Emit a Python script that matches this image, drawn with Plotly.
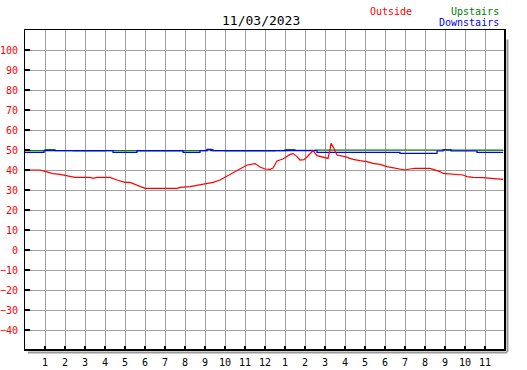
import plotly.graph_objects as go

# ---- data ----
title_text = "11/03/2023"
tick_hours = list(range(1, 24))
tick_labels = ["1", "2", "3", "4", "5", "6", "7", "8", "9", "10", "11", "12",
               "1", "2", "3", "4", "5", "6", "7", "8", "9", "10", "11"]
y_ticks = [-40, -30, -20, -10, 0, 10, 20, 30, 40, 50, 60, 70, 80, 90, 100]

outside_hours = [0.0, 0.75, 1.0, 1.4, 1.75, 2.1, 2.5, 3.25, 3.4, 3.6, 4.25, 4.6, 5.0, 5.25,
                 5.5, 5.75, 6.0, 7.6, 7.75, 8.25, 8.75, 9.4, 9.75, 10.1, 10.6, 11.1, 11.5,
                 11.75, 12.0, 12.25, 12.4, 12.6, 12.9, 13.25, 13.4, 13.6, 13.75, 13.95, 14.1,
                 14.25, 14.4, 14.6, 14.9, 15.15, 15.25, 15.3, 15.4, 15.6, 16.0, 16.4, 16.75,
                 17.1, 17.4, 17.75, 18.1, 18.4, 18.75, 19.0, 19.25, 19.5, 20.25, 20.4, 20.75,
                 20.9, 21.4, 21.9, 22.1, 22.4, 22.9, 23.25, 23.9]
outside_temp = [40.0, 40.0, 39.3, 38.2, 37.8, 37.0, 36.3, 36.3, 35.8, 36.3, 36.3, 35.0, 33.8, 33.8,
                32.8, 31.7, 30.8, 30.8, 31.3, 31.7, 32.5, 33.8, 35.0, 37.0, 40.0, 42.5, 43.2,
                41.5, 40.5, 40.3, 41.0, 44.5, 45.5, 47.8, 48.2, 46.7, 45.0, 45.2, 46.5,
                48.0, 49.7, 47.2, 46.5, 45.8, 50.0, 53.3, 51.7, 47.5, 46.7, 45.3, 44.7,
                44.2, 43.3, 42.8, 41.7, 41.2, 40.3, 40.0, 40.5, 40.8, 40.8, 40.3, 39.2,
                38.3, 37.8, 37.5, 36.7, 36.3, 36.2, 35.8, 35.3]

upstairs_hours = [0.0, 1.0, 1.5, 2.4, 4.0, 5.6, 7.9, 9.1, 9.4, 10.0, 12.5, 13.0, 13.5, 14.5, 20.9, 21.3, 23.9]
upstairs_temp = [49.7, 50.2, 49.7, 49.5, 49.7, 49.5, 49.7, 50.2, 49.7, 49.5, 49.7, 50.2, 49.8, 50.0, 50.2, 49.9, 49.9]

downstairs_hours = [0.0, 0.95, 4.4, 5.6, 7.9, 8.75, 9.1, 9.3, 14.6, 18.75, 20.6, 20.9, 21.3, 22.6, 23.9]
downstairs_temp = [48.8, 49.7, 48.8, 49.7, 48.8, 49.7, 50.3, 49.7, 48.8, 48.3, 49.5, 50.0, 49.5, 48.8, 48.8]

FONT = "DejaVu Sans Mono"
L, R, T, B = 25, 505, 30, 350
W, H = 527, 370

def px(x):
    return (x - L) / (R - L)

def py(y):
    return (B - y) / (B - T)

fig = go.Figure()
fig.add_trace(go.Scatter(x=upstairs_hours, y=upstairs_temp, mode="lines", line_shape="hv",
                         line=dict(color="#008000", width=1.2), name="Upstairs"))
fig.add_trace(go.Scatter(x=downstairs_hours, y=downstairs_temp, mode="lines", line_shape="hv",
                         line=dict(color="#0000ff", width=1.2), name="Downstairs"))
fig.add_trace(go.Scatter(x=outside_hours, y=outside_temp, mode="lines",
                         line=dict(color="#ff0000", width=1.2), name="Outside"))

fig.update_layout(
    width=W, height=H,
    margin=dict(l=L, r=W - R, t=T, b=H - B, pad=0, autoexpand=False),
    paper_bgcolor="white", plot_bgcolor="white",
    showlegend=False,
    font=dict(family=FONT, size=10, color="black"),
)
fig.update_xaxes(range=[0, 24], tickvals=tick_hours, ticktext=tick_labels,
                 showgrid=True, gridcolor="#a0a0a0", gridwidth=1,
                 ticks="inside", ticklen=4, tickcolor="black", tickwidth=2,
                 showline=True, linecolor="black", linewidth=1, mirror=True,
                 zeroline=False, tickfont=dict(family=FONT, size=10, color="black"),
                 ticklabelstandoff=3, fixedrange=True, automargin=False)
fig.update_yaxes(range=[-50, 110], tickvals=y_ticks,
                 showgrid=True, gridcolor="#a0a0a0", gridwidth=1,
                 ticks="inside", ticklen=5, tickcolor="black", tickwidth=2,
                 showline=True, linecolor="black", linewidth=1, mirror=True,
                 zeroline=False, tickfont=dict(family=FONT, size=10, color="#ff0000"),
                 ticklabelstandoff=4, fixedrange=True, automargin=False)

# frame emphasis (right/bottom thick border with gray shadow)
fig.add_shape(type="line", xref="paper", yref="paper", x0=1, x1=1, y0=0, y1=1,
              line=dict(color="black", width=2))
fig.add_shape(type="line", xref="paper", yref="paper", x0=0, x1=1, y0=0, y1=0,
              line=dict(color="black", width=2))
fig.add_shape(type="line", xref="paper", yref="paper", xsizemode="pixel", xanchor=1,
              x0=2.5, x1=2.5, y0=-0.006, y1=0.97, line=dict(color="#999999", width=2))
fig.add_shape(type="line", xref="paper", yref="paper", ysizemode="pixel", yanchor=0,
              y0=-2.5, y1=-2.5, x0=0.006, x1=1.005, line=dict(color="#999999", width=2))

fig.add_annotation(text=title_text, xref="paper", yref="paper", x=px(261), y=py(20),
                   xanchor="center", yanchor="middle", showarrow=False,
                   font=dict(family=FONT, size=13, color="black"))
fig.add_annotation(text="Outside", xref="paper", yref="paper", x=px(368), y=py(11),
                   xanchor="left", yanchor="middle", showarrow=False,
                   font=dict(family=FONT, size=10, color="#ff0000"))
fig.add_annotation(text="Upstairs", xref="paper", yref="paper", x=px(501), y=py(11),
                   xanchor="right", yanchor="middle", showarrow=False,
                   font=dict(family=FONT, size=10, color="#008000"))
fig.add_annotation(text="Downstairs", xref="paper", yref="paper", x=px(501), y=py(23),
                   xanchor="right", yanchor="middle", showarrow=False,
                   font=dict(family=FONT, size=10, color="#0000ff"))

fig.write_html("out.html", config={"displayModeBar": False},
               post_script="document.body.style.margin='0';document.body.style.overflow='hidden';")
